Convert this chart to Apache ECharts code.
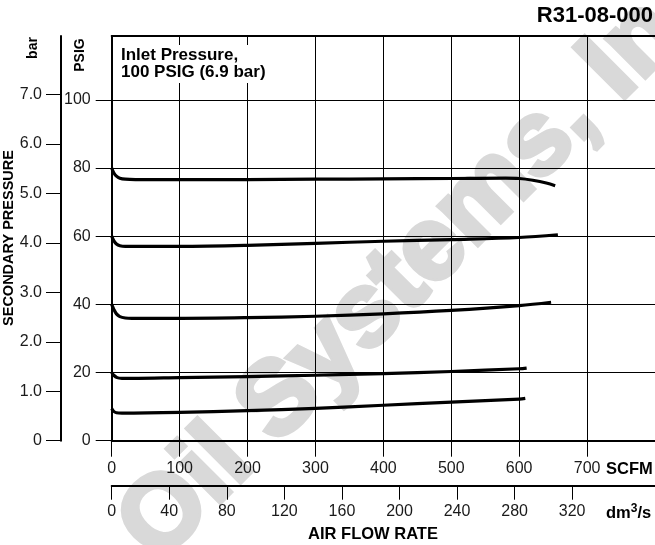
<!DOCTYPE html>
<html><head><meta charset="utf-8">
<script src="https://cdn.jsdelivr.net/npm/echarts@6/dist/echarts.min.js"></script>
<style>html,body{margin:0;padding:0;background:#fff}#c{width:655px;height:545px}</style>
</head><body><div id="c"></div>
<script>
// ---- data ----
const scfmTicks = [0, 100, 200, 300, 400, 500, 600, 700];
const dm3Ticks = [0, 40, 80, 120, 160, 200, 240, 280, 320];
const psigTicks = [0, 20, 40, 60, 80, 100];
const barTicks = [0, 1, 2, 3, 4, 5, 6, 7];

// [SCFM, PSIG]
const curve80 = [[0,80.0],[3,78.6],[7,77.6],[12,77.0],[20,76.7],[35,76.6],[100,76.6],[200,76.6],[300,76.7],[400,76.8],[500,76.9],[580,77.0],[600,76.9],[620,76.4],[640,75.6],[653,74.8]];
const curve60 = [[0,60.0],[3,58.7],[7,57.7],[12,57.2],[20,57.0],[40,57.0],[100,57.0],[200,57.3],[300,57.9],[400,58.5],[500,59.0],[600,59.6],[657,60.4]];
const curve40 = [[0,40.0],[3,38.6],[7,37.2],[12,36.4],[20,36.0],[30,35.9],[100,35.9],[200,36.1],[300,36.5],[400,37.2],[500,38.2],[600,39.6],[647,40.6]];
const curve20 = [[0,20.0],[3,19.2],[8,18.5],[15,18.3],[30,18.3],[100,18.5],[200,18.8],[300,19.2],[400,19.7],[500,20.3],[600,21.1],[611,21.3]];
const curve10 = [[0,9.4],[3,8.6],[7,8.2],[15,8.1],[100,8.3],[200,8.8],[300,9.5],[400,10.4],[500,11.3],[600,12.2],[609,12.4]];
const curves = [curve80, curve60, curve40, curve20, curve10];

const titleText = 'R31-08-000';
const noteText = 'Inlet Pressure,\n100 PSIG (6.9 bar)';
const yTitle = 'SECONDARY PRESSURE';
const xTitle = 'AIR FLOW RATE';
const watermark = 'Oil Systems, Inc.';

const SCFM_MAX = 800;
const SCFM_PER_DM3S = 2.11888;
const PSIG_MAX = 118.7;
const PSI_PER_BAR = 14.5038;

// ---- chart ----
const FF = '"Liberation Sans", Arial, Helvetica, sans-serif';
const BLACK = '#000';
const LBL = '#1a1a1a';
const chart = echarts.init(document.getElementById('c'), null, {renderer: 'canvas'});

const labelStyle = {color: LBL, fontFamily: FF, fontSize: 16};

chart.setOption({
  backgroundColor: '#fff',
  animation: false,
  grid: {left: 111.7, top: 36, width: 545.6, height: 404.7},
  xAxis: [
    {
      type: 'value', min: 0, max: SCFM_MAX, interval: 100, position: 'bottom',
      axisLine: {show: true, onZero: false, lineStyle: {color: BLACK, width: 2}},
      axisTick: {show: true, length: 16, lineStyle: {color: BLACK, width: 1}, customValues: scfmTicks},
      axisLabel: Object.assign({margin: 20, customValues: scfmTicks}, labelStyle),
      splitLine: {show: true, lineStyle: {color: BLACK, width: 1}}
    },
    {
      type: 'value', min: 0, max: SCFM_MAX / SCFM_PER_DM3S, interval: 40, position: 'bottom', offset: 45,
      axisLine: {show: true, onZero: false, lineStyle: {color: BLACK, width: 2}},
      axisTick: {show: true, length: 14, lineStyle: {color: BLACK, width: 1}, customValues: dm3Ticks},
      axisLabel: Object.assign({margin: 18, customValues: dm3Ticks}, labelStyle),
      splitLine: {show: false}
    },
    {
      type: 'value', min: 0, max: SCFM_MAX, position: 'top',
      axisLine: {show: true, onZero: false, lineStyle: {color: BLACK, width: 2}},
      axisTick: {show: false}, axisLabel: {show: false}, splitLine: {show: false}
    }
  ],
  yAxis: [
    {
      type: 'value', min: 0, max: PSIG_MAX, interval: 20, position: 'left',
      axisLine: {show: true, onZero: false, lineStyle: {color: BLACK, width: 2}},
      axisTick: {show: true, length: 16, lineStyle: {color: BLACK, width: 1}, customValues: psigTicks},
      axisLabel: Object.assign({margin: 21, customValues: psigTicks}, labelStyle),
      splitLine: {show: true, lineStyle: {color: BLACK, width: 1}}
    },
    {
      type: 'value', min: 0, max: PSIG_MAX / PSI_PER_BAR, interval: 1, position: 'left', offset: 50.7,
      axisLine: {show: true, onZero: false, lineStyle: {color: BLACK, width: 2}},
      axisTick: {show: true, length: 15, lineStyle: {color: BLACK, width: 1}, customValues: barTicks},
      axisLabel: Object.assign({margin: 19, customValues: barTicks,
        formatter: v => v === 0 ? '0' : v.toFixed(1)}, labelStyle),
      splitLine: {show: false}
    }
  ],
  series: curves.map(c => ({
    type: 'line', xAxisIndex: 0, yAxisIndex: 0, data: c,
    smooth: 0.35, symbol: 'none', z: 5,
    lineStyle: {color: BLACK, width: 3.2, cap: 'butt', join: 'round'}
  })),
  graphic: [
    {type: 'text', z: -100, x: 432, y: 250, rotation: Math.PI / 4, silent: true,
      style: {text: watermark, fill: '#d9d9d9', stroke: '#d9d9d9', lineWidth: 5,
        font: 'bold 104px ' + FF, textAlign: 'center', textVerticalAlign: 'middle'}},
    {type: 'text', z: 50, right: 2, top: 5,
      style: {text: titleText, fill: BLACK, font: 'bold 22px ' + FF}},
    {type: 'text', z: 50, left: 117, top: 45,
      style: {text: noteText, fill: BLACK, font: 'bold 17px ' + FF, lineHeight: 17,
        backgroundColor: '#fff', padding: [2, 4, 2, 4]}},
    {type: 'text', z: 50, x: 8.5, y: 238, rotation: Math.PI / 2,
      style: {text: yTitle, fill: BLACK, font: 'bold 14.5px ' + FF, textAlign: 'center', textVerticalAlign: 'middle'}},
    {type: 'text', z: 50, x: 33, y: 48, rotation: Math.PI / 2,
      style: {text: 'bar', fill: BLACK, font: 'bold 14px ' + FF, textAlign: 'center', textVerticalAlign: 'middle'}},
    {type: 'text', z: 50, x: 80.5, y: 55, rotation: Math.PI / 2,
      style: {text: 'PSIG', fill: BLACK, font: 'bold 14px ' + FF, textAlign: 'center', textVerticalAlign: 'middle'}},
    {type: 'text', z: 50, x: 606, y: 469.5,
      style: {text: 'SCFM', fill: BLACK, font: 'bold 16.5px ' + FF, textAlign: 'left', textVerticalAlign: 'middle'}},
    {type: 'text', z: 50, x: 606, y: 513,
      style: {text: '{a|dm}{s|3}{a|/s}', textAlign: 'left', textVerticalAlign: 'middle',
        rich: {a: {fontSize: 16.5, fontWeight: 'bold', fontFamily: FF, color: BLACK},
               s: {fontSize: 12, fontWeight: 'bold', fontFamily: FF, color: BLACK, padding: [0, 0, 8, 0]}}}},
    {type: 'text', z: 50, x: 373, y: 534.5,
      style: {text: xTitle, fill: BLACK, font: 'bold 16.5px ' + FF, textAlign: 'center', textVerticalAlign: 'middle'}}
  ]
});
</script>
</body></html>
